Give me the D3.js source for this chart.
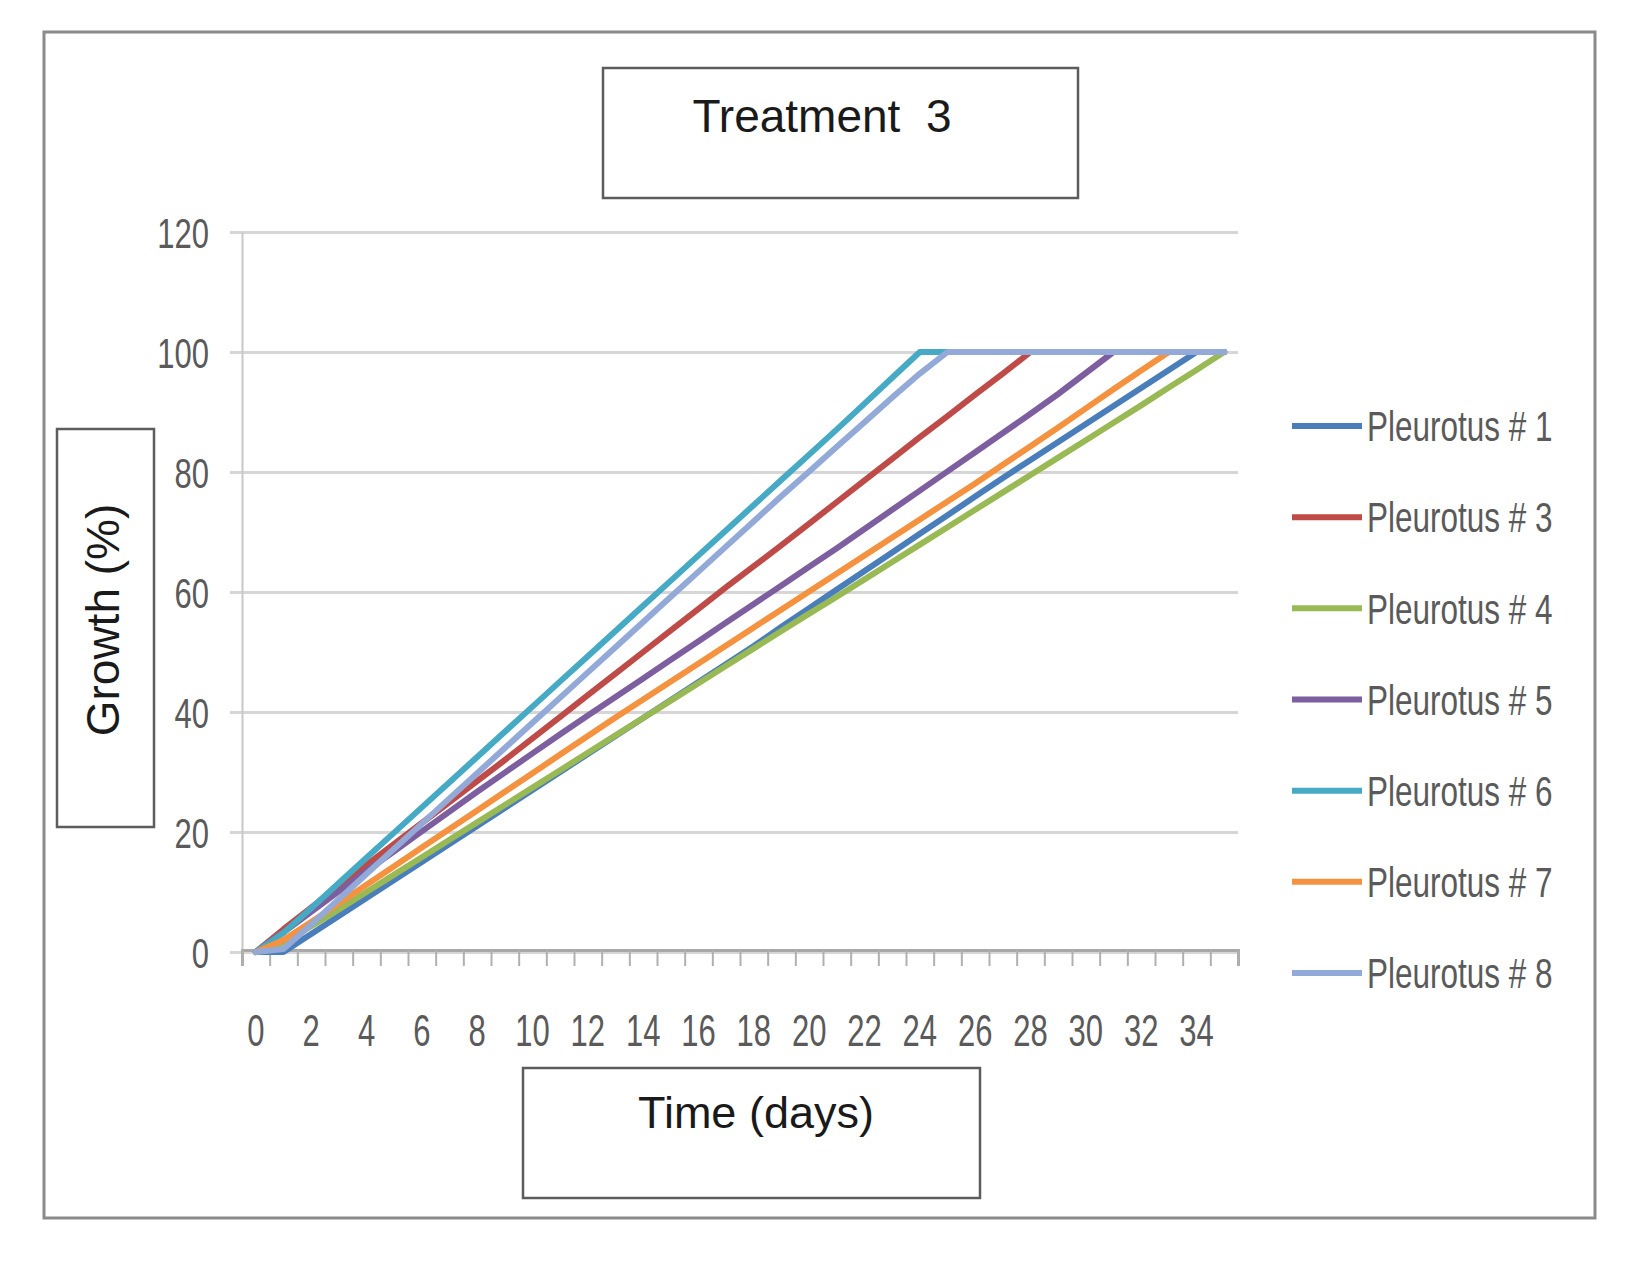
<!DOCTYPE html>
<html>
<head>
<meta charset="utf-8">
<script src="https://cdn.jsdelivr.net/npm/d3@7"></script>
<style>
  body { margin: 0; background: #ffffff; }
  text { font-family: "Liberation Sans", Arial, sans-serif; }
</style>
</head>
<body>
<div id="line-chart"></div>
<script>
// Categories (days) and tick labels
const days = [0, 1, 2, 3, 4, 5, 6, 7, 8, 9, 10, 11, 12, 13, 14, 15, 16, 17,
  18, 19, 20, 21, 22, 23, 24, 25, 26, 27, 28, 29, 30, 31, 32, 33, 34, 35];
const xTickLabels = [0, 2, 4, 6, 8, 10, 12, 14, 16, 18, 20, 22, 24, 26, 28, 30, 32, 34];
const yTickLabels = [0, 20, 40, 60, 80, 100, 120];

// Growth (%) per day
const pleurotus1 = [0, 0, 3, 6, 9, 12, 15, 18, 21, 24, 27, 30, 33, 36, 39, 42, 45, 48, 51, 54.2,
  57.3, 60.4, 63.5, 66.6, 69.7, 72.8, 75.9, 79, 82, 85, 88, 91, 94, 97, 100, 100];
const pleurotus3 = [0, 3.8, 7.4, 11, 14.5, 18, 21.5, 25, 28.5, 32, 35.6, 39.2, 42.8, 46.4, 50, 53.6, 57.2, 60.8, 64.3, 67.8,
  71.4, 75, 78.6, 82.2, 85.8, 89.3, 92.9, 96.4, 100, 100, 100, 100, 100, 100, 100, 100];
const pleurotus4 = [0, 1.5, 4.3, 7.1, 10, 12.9, 15.8, 18.7, 21.6, 24.5, 27.4, 30.3, 33.2, 36.1, 39, 41.9, 44.8, 47.7, 50.6, 53.5,
  56.4, 59.2, 62.1, 65, 67.9, 70.8, 73.7, 76.6, 79.5, 82.4, 85.3, 88.2, 91.1, 94.1, 97, 100];
const pleurotus5 = [0, 3.3, 6.7, 10.1, 13.5, 16.8, 20.1, 23.4, 26.7, 29.9, 33.1, 36.3, 39.4, 42.5, 45.6, 48.7, 51.8, 54.9, 58, 61.1,
  64.2, 67.3, 70.5, 73.7, 76.9, 80.1, 83.3, 86.5, 89.7, 93, 96.5, 100, 100, 100, 100, 100];
const pleurotus6 = [0, 3.2, 7.3, 11.5, 15.7, 19.9, 24.1, 28.3, 32.5, 36.7, 40.9, 45.1, 49.3, 53.5, 57.7, 61.9, 66.1, 70.3, 74.5, 78.7,
  82.9, 87.1, 91.4, 95.7, 100, 100, 100, 100, 100, 100, 100, 100, 100, 100, 100, 100];
const pleurotus7 = [0, 2, 5, 8.1, 11.2, 14.3, 17.4, 20.5, 23.6, 26.7, 29.8, 32.9, 36, 39.1, 42.1, 45.1, 48.1, 51.1, 54.1, 57.1,
  60.1, 63.1, 66.1, 69.1, 72.1, 75.1, 78.1, 81.2, 84.3, 87.4, 90.6, 93.8, 96.9, 100, 100, 100];
const pleurotus8 = [0, 0.5, 4.6, 8.8, 13, 17.2, 21.4, 25.6, 29.8, 34, 38.2, 42.4, 46.6, 50.8, 55, 59.2, 63.4, 67.6, 71.8, 76,
  80.1, 84.2, 88.3, 92.4, 96.4, 100, 100, 100, 100, 100, 100, 100, 100, 100, 100, 100];

const seriesNames = ["Pleurotus # 1", "Pleurotus # 3", "Pleurotus # 4", "Pleurotus # 5",
  "Pleurotus # 6", "Pleurotus # 7", "Pleurotus # 8"];
const seriesValues = [pleurotus1, pleurotus3, pleurotus4, pleurotus5, pleurotus6, pleurotus7, pleurotus8];
const seriesColors = ["#4a7ebb", "#be4b48", "#98b954", "#7d5fa0", "#46aac5", "#f59240", "#93aad9"];

const width = 1628;
const height = 1262;
const plot = { left: 242, right: 1238, top: 232, bottom: 952 };
const stretch = 1.35; // tick and legend text in the picture is tall and narrow

const svg = d3.select("#line-chart")
  .append("svg")
    .attr("width", width)
    .attr("height", height)
    .attr("viewBox", `0, 0, ${width}, ${height}`);

svg.append("rect")
  .attr("width", width).attr("height", height)
  .attr("fill", "#ffffff");

/****************************/
/*      Frame and boxes     */
/****************************/
svg.append("rect")
  .attr("x", 44).attr("y", 32)
  .attr("width", 1551).attr("height", 1186)
  .attr("fill", "none")
  .attr("stroke", "#8a8a8a")
  .attr("stroke-width", 3);

const boxes = [
  { x: 603, y: 68, w: 475, h: 130 },
  { x: 57, y: 429, w: 97, h: 398 },
  { x: 523, y: 1068, w: 457, h: 130 }
];
svg.selectAll(".label-box")
  .data(boxes)
  .join("rect")
    .attr("class", "label-box")
    .attr("x", d => d.x).attr("y", d => d.y)
    .attr("width", d => d.w).attr("height", d => d.h)
    .attr("fill", "#ffffff")
    .attr("stroke", "#5c5c5c")
    .attr("stroke-width", 2.5);

svg.append("text")
  .text("Treatment  3")
  .style("white-space", "pre")
  .attr("x", 822).attr("y", 132)
  .attr("text-anchor", "middle")
  .attr("font-size", 46)
  .attr("fill", "#1a1a1a");

svg.append("text")
  .text("Time (days)")
  .attr("x", 756).attr("y", 1128)
  .attr("text-anchor", "middle")
  .attr("font-size", 45)
  .attr("fill", "#1a1a1a");

svg.append("text")
  .text("Growth (%)")
  .attr("transform", "translate(119, 620) rotate(-90)")
  .attr("text-anchor", "middle")
  .attr("font-size", 46)
  .attr("fill", "#1a1a1a");

/****************************/
/*    Declare the scales    */
/****************************/
const xScale = d3.scaleBand()
  .domain(days)
  .range([plot.left, plot.right])
  .paddingInner(0)
  .paddingOuter(0);

// boundaries between categories, for the tick marks
const xEdges = d3.scaleLinear()
  .domain([0, days.length])
  .range([plot.left, plot.right]);

const yScale = d3.scaleLinear()
  .domain([0, 120])
  .range([plot.bottom, plot.top]);

const innerChart = svg.append("g");

/***************************/
/*     Append the axes     */
/***************************/
// Gridlines
const gridAxis = d3.axisLeft(yScale)
  .tickValues(yTickLabels)
  .tickSize(-(plot.right - plot.left + 12))
  .tickFormat("");
innerChart.append("g")
  .attr("class", "grid")
  .attr("transform", `translate(${plot.left - 12}, 0)`)
  .call(gridAxis)
  .call(g => g.select(".domain").remove())
  .call(g => g.selectAll(".tick line")
    .attr("stroke", "#d6d6d6")
    .attr("stroke-width", 3));

// Left axis with labels
const leftAxis = d3.axisLeft(yScale)
  .tickValues(yTickLabels)
  .tickSize(0)
  .tickPadding(0);
innerChart.append("g")
  .attr("class", "axis-y")
  .attr("transform", `translate(${plot.left}, 0)`)
  .call(leftAxis)
  .call(g => g.select(".domain")
    .attr("stroke", "#c8c8c8")
    .attr("stroke-width", 2))
  .call(g => g.selectAll(".tick text")
    .attr("x", 0).attr("dy", "0.36em")
    .attr("transform", `translate(-33, 0) scale(1, ${stretch})`)
    .attr("font-size", 31)
    .attr("font-family", "'Liberation Sans', Arial, sans-serif")
    .attr("fill", "#5a5a5a"));

// Bottom axis: tick marks between categories
const edgeAxis = d3.axisBottom(xEdges)
  .tickValues(d3.range(days.length + 1))
  .tickSize(16)
  .tickFormat("");
innerChart.append("g")
  .attr("class", "axis-x")
  .attr("transform", `translate(0, ${plot.bottom - 2})`)
  .call(edgeAxis)
  .call(g => g.select(".domain")
    .attr("stroke", "#a8a8a8")
    .attr("stroke-width", 3))
  .call(g => g.selectAll(".tick line")
    .attr("stroke", "#b0b0b0")
    .attr("stroke-width", 2));

// Bottom axis: labels on category centres
const bottomAxis = d3.axisBottom(xScale)
  .tickValues(xTickLabels)
  .tickSize(0);
innerChart.append("g")
  .attr("class", "axis-x-labels")
  .attr("transform", `translate(0, ${plot.bottom})`)
  .call(bottomAxis)
  .call(g => g.select(".domain").remove())
  .call(g => g.selectAll(".tick text")
    .attr("y", 0).attr("dy", "0.36em")
    .attr("transform", `translate(0, 78) scale(1, ${stretch * 1.05})`)
    .attr("font-size", 31)
    .attr("font-family", "'Liberation Sans', Arial, sans-serif")
    .attr("fill", "#5a5a5a"));

/*****************************/
/*     Line chart series     */
/*****************************/
const curveGenerator = d3.line()
  .x((d, i) => xScale(days[i]) + xScale.bandwidth() / 2)
  .y(d => yScale(d));

innerChart.selectAll(".series")
  .data(seriesValues)
  .join("path")
    .attr("class", "series")
    .attr("d", d => curveGenerator(d))
    .attr("fill", "none")
    .attr("stroke", (d, i) => seriesColors[i])
    .attr("stroke-width", 6)
    .attr("stroke-linejoin", "round")
    .attr("stroke-linecap", "round");

/*****************************/
/*          Legend           */
/*****************************/
const legendY = d3.scalePoint()
  .domain(seriesNames)
  .range([426, 973]);

const legend = svg.selectAll(".legend-item")
  .data(seriesNames)
  .join("g")
    .attr("class", "legend-item")
    .attr("transform", d => `translate(1292, ${legendY(d)})`);

legend.append("line")
  .attr("x1", 0).attr("x2", 70)
  .attr("stroke", (d, i) => seriesColors[i])
  .attr("stroke-width", 6);

legend.append("text")
  .text(d => d)
  .attr("dy", "0.36em")
  .attr("transform", `translate(75, 0) scale(1, ${stretch})`)
  .attr("font-size", 31.5)
  .attr("fill", "#5a5a5a");
</script>
</body>
</html>
